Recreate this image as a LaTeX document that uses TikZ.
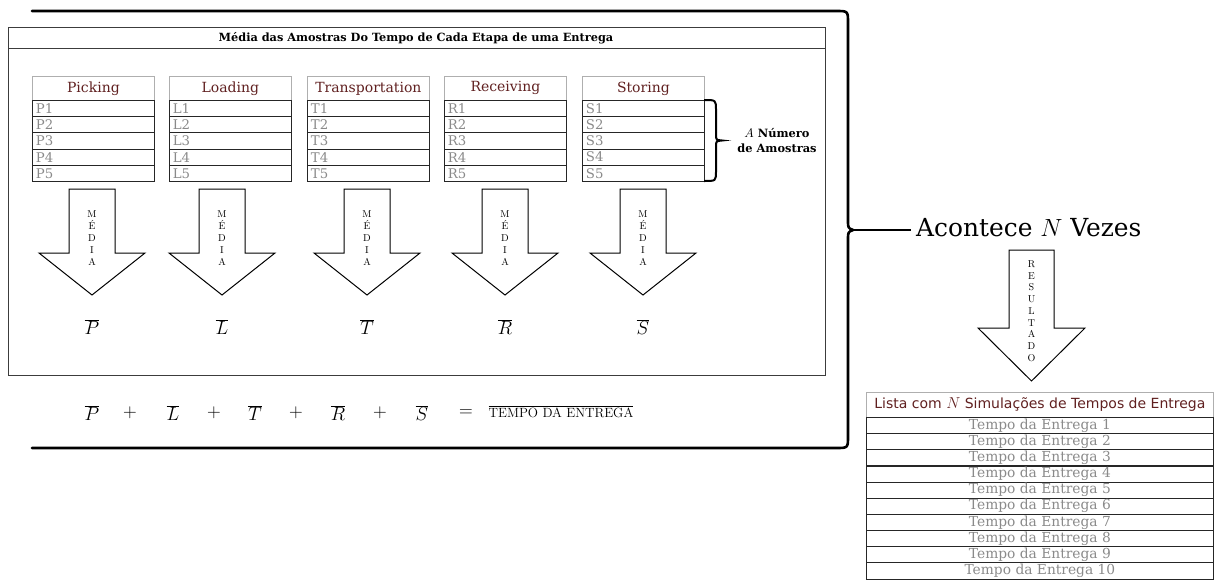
\documentclass[tikz,border=0pt]{standalone}
\usepackage{fontspec}
\newfontfamily\dvserif{DejaVu Serif}
\newfontfamily\dvsans{DejaVu Sans}
\definecolor{hdrred}{RGB}{96,32,32}
\definecolor{celltext}{RGB}{138,138,138}
\definecolor{hdrline}{RGB}{175,175,175}
\definecolor{frameline}{RGB}{60,60,60}

\tikzset{
  hdrcell/.style={draw=hdrline, line width=0.8pt, minimum width=122pt, minimum height=24pt,
    inner sep=0pt, anchor=north west, text=hdrred, font=\dvserif\fontsize{14}{16}\selectfont},
  samplecell/.style={draw=black!85, line width=0.8pt, minimum height=16.2pt, text width=115pt,
    inner xsep=3.5pt, inner ysep=0pt, anchor=north west, align=left, text=celltext,
    font=\dvserif\fontsize{13.3}{15}\selectfont},
  listhdr/.style={draw=hdrline, line width=0.8pt, minimum width=347pt, minimum height=25pt,
    inner sep=0pt, anchor=north west, text=hdrred, font=\dvsans\fontsize{14}{16}\selectfont},
  listcell/.style={draw=black!85, line width=0.8pt, minimum width=347pt, minimum height=16.2pt,
    inner sep=0pt, anchor=north west, text=celltext, font=\dvserif\fontsize{13.8}{15}\selectfont},
  fatarrow/.style={draw=black, line width=1pt, fill=white, line join=miter},
  vletters/.style={align=center, inner sep=0pt, font=\fontsize{10}{12}\selectfont},
  mathsym/.style={inner sep=0pt, font=\fontsize{17.28}{20}\selectfont},
  bigbrace/.style={draw=black, line width=2.6pt, line cap=round},
  smallbrace/.style={draw=black, line width=2pt},
  frame/.style={draw=frameline, line width=1pt},
}
% math symbols of the means and of the sum
\newcommand\bigmath[1]{\scalebox{1.1}{$#1$}}

\begin{document}
\begin{tikzpicture}[x=1pt, y=-1pt]
\useasboundingbox (0,0) rectangle (1215,579);

% outer frame with the title strip
\draw[frame] (8,27) rectangle (825,375);
\draw[frame] (8,48) -- (825,48);
\node[font=\dvserif\bfseries\fontsize{11.3}{14}\selectfont, inner sep=0pt] (title) at (416,38)
  {Média das Amostras Do Tempo de Cada Etapa de uma Entrega};

% one table per stage
\foreach \L/\name/\ltr/\i in {32/Picking/P/1, 169/Loading/L/2, 307/Transportation/T/3,
                              444/Receiving/R/4, 582/Storing/S/5} {
  \node[hdrcell] (hdr\i) at (\L,76) {\name};
  \foreach \k in {1,...,5}
    \node[samplecell] (cell\i\k) at (\L,{100+16.2*(\k-1)}) {\ltr\k};
}

% brace over the sample rows
\coordinate (sbTop) at (704,100);
\coordinate (sbBot) at (704,181);
\draw[smallbrace] (sbTop) .. controls (716,100) .. (716,110) -- (716,134)
  .. controls (716,140) .. (722,140.5) .. controls (716,141) .. (716,147) -- (716,171)
  .. controls (716,181) .. (sbBot);
\node[align=center, inner sep=0pt, font=\dvserif\bfseries\fontsize{11.4}{15}\selectfont] (nsamples)
  at (777,141) {\scalebox{1.15}{$A$} Número\\de Amostras};

% averaging arrows and the means
\foreach \cx/\i/\ltr in {92/1/P, 222/2/L, 367/3/T, 505/4/R, 643/5/S} {
  \draw[fatarrow] (\cx-23,189) -- (\cx+23,189) -- (\cx+23,253) -- (\cx+53,253)
    -- (\cx,295) -- (\cx-53,253) -- (\cx-23,253) -- cycle;
  \node[vletters] (media\i) at (\cx,238) {M\\É\\D\\I\\A};
  \node[mathsym] (mean\i) at (\cx,327) {\bigmath{\overline{\ltr}}};
}

% sum of the means
\foreach \ex/\sym/\j in {92/\overline{P}/1, 130/+/2, 173/\overline{L}/3, 214/+/4,
                         255/\overline{T}/5, 296/+/6, 338/\overline{R}/7, 380/+/8,
                         422/\overline{S}/9, 466/=/10} {
  \node[mathsym] (eq\j) at (\ex,413) {\bigmath{\sym}};
}
\node[inner sep=0pt, font=\fontsize{13.4}{15}\selectfont] (total) at (561,412)
  {$\overline{\mbox{TEMPO DA ENTREGA}}$};

% large brace around the whole sampling step
\coordinate (braceTip) at (853,230);
\coordinate (lineEnd) at (911,230);
\draw[bigbrace] (32,11) -- (836,11) .. controls (848,11) .. (848,23) -- (848,220)
  .. controls (848,228) .. (braceTip) .. controls (848,232) .. (848,240) -- (848,436)
  .. controls (848,448) .. (836,448) -- (32,448);
\draw[line width=2pt] (braceTip) -- (lineEnd);
\node[anchor=west, inner sep=0pt, font=\dvserif\fontsize{24.88}{28}\selectfont] (repeat)
  at (916,228) {Acontece $N$ Vezes};

% result arrow
\draw[fatarrow] (1009,250) -- (1054,250) -- (1054,328) -- (1085,328) -- (1031.5,381)
  -- (978,328) -- (1009,328) -- cycle;
\node[vletters, font=\fontsize{10}{11.75}\selectfont] (resultado) at (1031.5,311)
  {R\\E\\S\\U\\L\\T\\A\\D\\O};

% list of simulated delivery times
\node[listhdr] (listhdr) at (866,392) {Lista com \scalebox{1.1}{$N$} Simulações de Tempos de Entrega};
\foreach \k in {1,...,10}
  \node[listcell] (entrega\k) at (866,{417+16.15*(\k-1)}) {Tempo da Entrega \k};
\end{tikzpicture}
\end{document}
